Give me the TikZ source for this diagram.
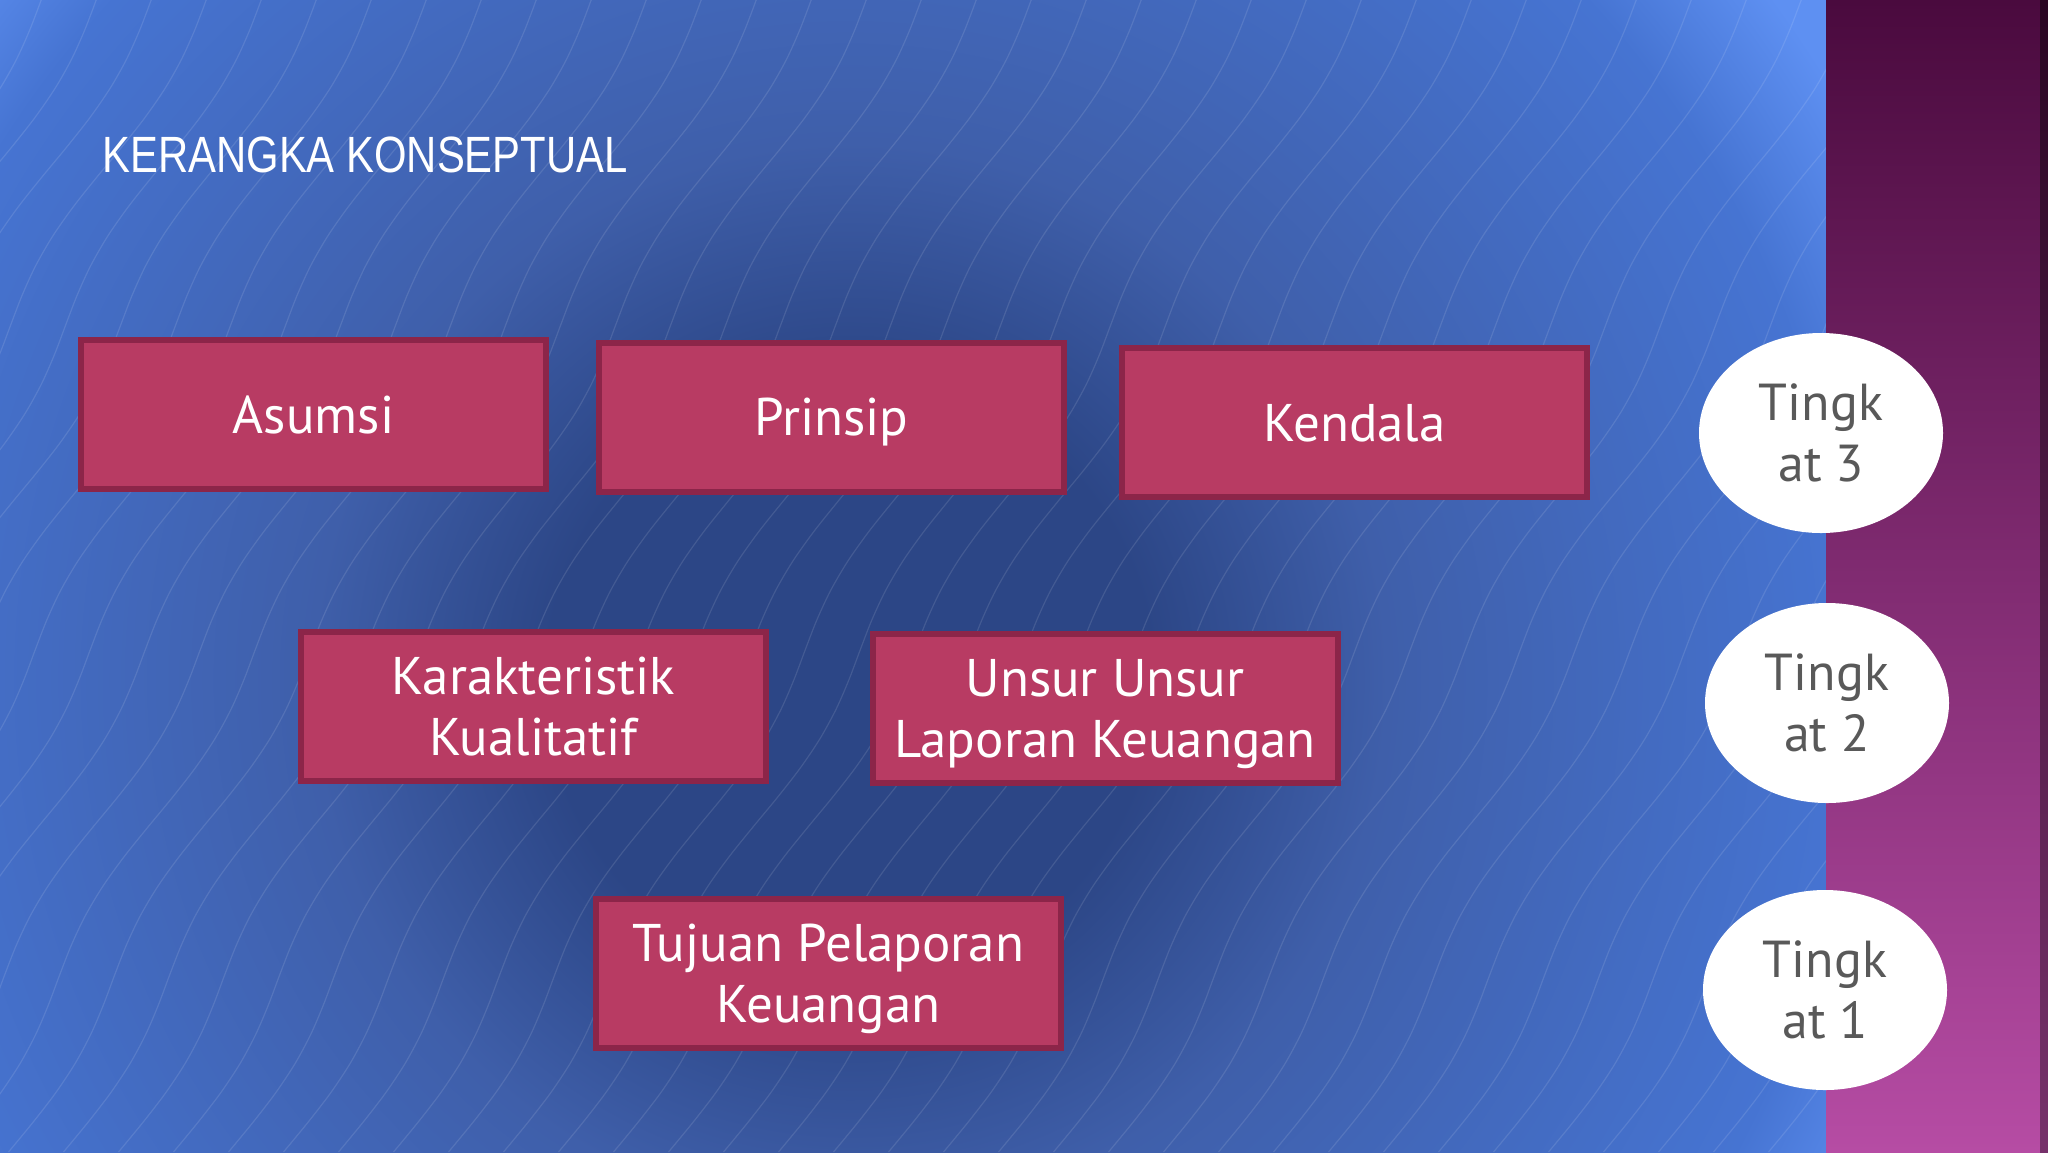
\documentclass[tikz,border=0pt]{standalone}
\usepackage{fontspec}
\setmainfont{PT Sans}
\newfontfamily\titlefont[FakeStretch=0.82]{Liberation Sans}
\usepackage{tikz}
\usetikzlibrary{shapes.geometric}

\definecolor{bgdark}{HTML}{2C4686}
\definecolor{bgmid}{HTML}{3F5FAA}
\definecolor{bgside}{HTML}{4674D2}
\definecolor{bglight}{HTML}{5E90F2}
\definecolor{panetop}{HTML}{4A0A3E}
\definecolor{panebot}{HTML}{B64CA4}
\definecolor{boxfill}{HTML}{B83B63}
\definecolor{boxedge}{HTML}{8C2549}
\definecolor{lvltext}{HTML}{595959}

\pgfdeclareradialshading{bgglow}{\pgfpoint{0bp}{0bp}}{color(0bp)=(bgdark); color(5.4bp)=(bgdark); color(9.6bp)=(bgmid); color(17.9bp)=(bgside); color(20.5bp)=(bglight); color(50bp)=(bglight)}

% line boxes for the labels: height of first line, depth of last line
\newcommand{\hstrut}[1]{\rule{0pt}{#1}}
\newcommand{\dstrut}[1]{\rule[-#1]{0pt}{#1}}

\tikzstyle{boxbase} = [rectangle, draw=boxedge, line width=3pt, fill=boxfill, text=white, align=center, minimum width=232.5pt, minimum height=74.5pt, font=\fontsize{26.5}{30.5}\selectfont]
\tikzstyle{block} = [boxbase, execute at begin node=\hstrut{25.2pt}, execute at end node=\dstrut{6.6pt}]
\tikzstyle{twoblock} = [boxbase, execute at begin node=\hstrut{34.5pt}, text depth=0pt]
\tikzstyle{level} = [ellipse, fill=white, text=lvltext, align=center, inner sep=0pt, minimum width=122pt, minimum height=100pt, execute at begin node=\hstrut{32.6pt}, text depth=0pt, font=\fontsize{26}{30.5}\selectfont]
\tikzstyle{wave} = [white, opacity=0.11, line width=0.6pt]

\begin{document}
\begin{tikzpicture}[x=0.5pt, y=-0.5pt]
\useasboundingbox (0, 0) rectangle (2048, 1152);

% background
\begin{scope}
\clip (0, 0) rectangle (1826, 1152);
\shade [shading=bgglow] (850, 680) circle (1400);
\foreach \s in {-760, -705, ..., 1800}
  \draw [wave] plot [domain=0:1152, samples=40, smooth, variable=\t] ({\s + 0.6*(1152-\t) + 12*sin(1.1*\t)}, \t);
\end{scope}
\shade [top color=panetop, bottom color=panebot] (1826, 0) rectangle (2048, 1152);
\shade [top color=black!45!panetop, bottom color=black!35!panebot] (2040, 0) rectangle (2048, 1152);

\node [anchor=base west, text=white, inner sep=0pt, font=\titlefont\fontsize{25.5}{28}\selectfont] at (102, 172) (title) {KERANGKA KONSEPTUAL};

% level 3
\node [block] at (313.5, 414.5) (asumsi) {Asumsi};
\node [block] at (831.5, 417) (prinsip) {Prinsip};
\node [block] at (1354.5, 422.5) (kendala) {Kendala};

% level 2
\node [twoblock] at (533.5, 706) (karakter) {Karakteristik\\Kualitatif};
\node [twoblock] at (1105, 708.5) (unsur) {Unsur Unsur\\Laporan Keuangan};

% level 1
\node [twoblock] at (828.5, 973.5) (tujuan) {Tujuan Pelaporan\\Keuangan};

% levels
\node [level] at (1821, 433) (tk3) {Tingk\\at 3};
\node [level] at (1827, 703) (tk2) {Tingk\\at 2};
\node [level] at (1825, 990) (tk1) {Tingk\\at 1};

\end{tikzpicture}
\end{document}
